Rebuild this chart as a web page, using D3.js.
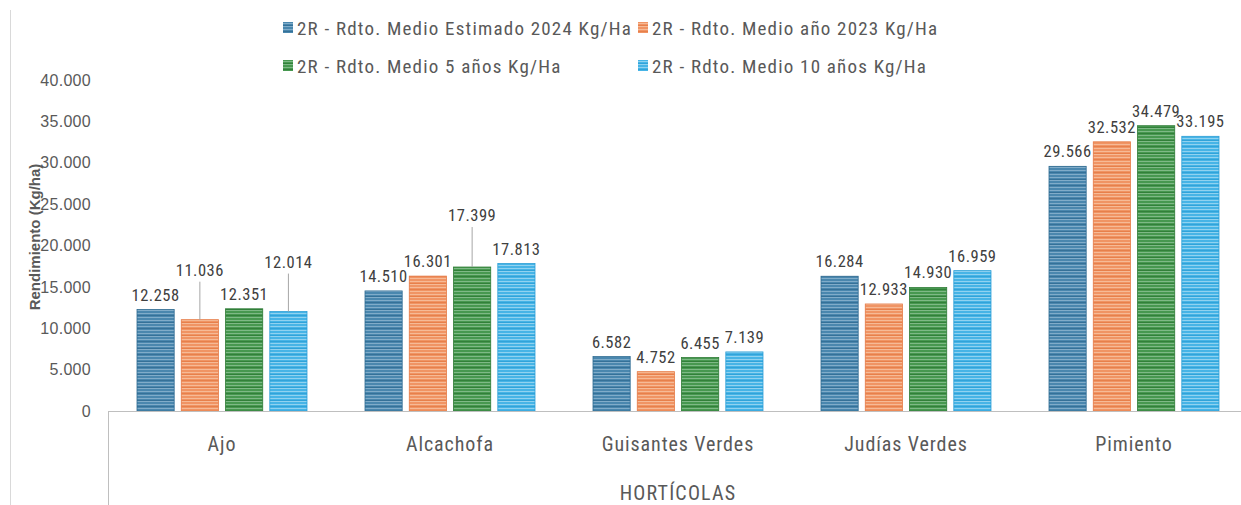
<!DOCTYPE html>
<html lang="es">
<head>
<meta charset="UTF-8">
<title>Rendimiento hortícolas</title>
<script src="https://d3js.org/d3.v7.min.js"></script>
<style>
  body { margin: 0; background: #fff; }
  svg { font-family: "Liberation Sans Narrow", "Roboto Condensed", "Liberation Sans", sans-serif; }
</style>
</head>
<body>
<div id="chart"></div>
<script>
    // -------- DATA --------
    var categories = ["Ajo", "Alcachofa", "Guisantes Verdes", "Judías Verdes", "Pimiento"];
    var seriesNames = [
        "2R - Rdto. Medio Estimado 2024 Kg/Ha",
        "2R - Rdto. Medio año 2023 Kg/Ha",
        "2R - Rdto. Medio 5 años Kg/Ha",
        "2R - Rdto. Medio 10 años Kg/Ha"
    ];
    var est2024 = [12258, 14510, 6582, 16284, 29566];
    var anio2023 = [11036, 16301, 4752, 12933, 32532];
    var medio5 = [12351, 17399, 6455, 14930, 34479];
    var medio10 = [12014, 17813, 7139, 16959, 33195];
    var yTicks = [0, 5000, 10000, 15000, 20000, 25000, 30000, 35000, 40000];
    var axisTitle = "Rendimiento (Kg/ha)";
    var groupTitle = "HORTÍCOLAS";

    var seriesValues = [est2024, anio2023, medio5, medio10];

    // colours: base, dark stripe, light stripe
    var colors = [
        ["#4a87ae", "#2f6b92", "#8db5cf"],
        ["#f09464", "#e57a45", "#f8c3a3"],
        ["#479850", "#2d7b35", "#8cc293"],
        ["#47b4e6", "#2c9fd6", "#a3d9f3"]
    ];

    // labels lifted with a leader line (series index - category index -> px)
    var lifted = { "1-0": 35, "3-0": 35, "2-1": 37 };

    var width = 1241, height = 505;
    var plotTop = 80, plotBottom = 411, plotLeft = 108, bandW = 228;

    var svg = d3.select("#chart")
        .append("svg")
        .attr("width", width)
        .attr("height", height);

    // stripe patterns
    var defs = svg.append("defs");
    colors.forEach(function (c, i) {
        var p = defs.append("pattern")
            .attr("id", "stripe" + i)
            .attr("patternUnits", "userSpaceOnUse")
            .attr("width", 8)
            .attr("height", 13);
        p.append("rect").attr("width", 8).attr("height", 13).attr("fill", c[0]);
        [[1, c[2]], [3, c[1]], [5, c[2]], [8, c[2]], [10, c[1]], [11, c[2]]].forEach(function (s) {
            p.append("rect").attr("y", s[0]).attr("width", 8).attr("height", 1)
                .attr("fill", s[1]).attr("opacity", 0.8);
        });
    });

    var fmt = d3.formatLocale({ decimal: ",", thousands: ".", grouping: [3], currency: ["", ""] }).format(",");

    var x0 = d3.scaleBand()
        .domain(categories)
        .range([plotLeft, plotLeft + bandW * categories.length]);
    var x1 = d3.scaleBand()
        .domain(d3.range(seriesNames.length))
        .range([29, 199])
        .paddingInner(0.16);
    var y = d3.scaleLinear()
        .domain([0, 40000])
        .range([plotBottom, plotTop]);

    // outer border line
    svg.append("line")
        .attr("x1", 10.5).attr("x2", 10.5)
        .attr("y1", 10).attr("y2", height)
        .attr("stroke", "#d9d9d9");

    // y axis labels
    var yAxis = svg.append("g")
        .attr("transform", "translate(" + 91 + ",0)")
        .call(d3.axisLeft(y).tickValues(yTicks).tickSize(0).tickPadding(0)
            .tickFormat(function (d) { return fmt(d); }));
    yAxis.select(".domain").remove();
    yAxis.selectAll("text")
        .attr("fill", "#595959")
        .style("font-size", "16px")
        .style("letter-spacing", "0.3px")
        .style("font-family", "inherit");

    svg.append("text")
        .attr("transform", "translate(40," + 237 + ") rotate(-90)")
        .attr("text-anchor", "middle")
        .attr("fill", "#595959")
        .style("font-family", "'Liberation Sans', sans-serif")
        .style("font-weight", "bold")
        .style("font-size", "15px")
        .text(axisTitle);

    // bars
    var groups = svg.append("g").selectAll("g")
        .data(categories)
        .enter()
        .append("g")
        .attr("transform", function (d) { return "translate(" + x0(d) + ",0)"; });

    groups.selectAll("rect")
        .data(function (d, ci) {
            return seriesValues.map(function (vals, si) { return { si: si, ci: ci, v: vals[ci] }; });
        })
        .enter()
        .append("rect")
        .attr("x", function (d) { return x1(d.si); })
        .attr("y", function (d) { return y(d.v); })
        .attr("width", x1.bandwidth())
        .attr("height", function (d) { return y(0) - y(d.v); })
        .attr("fill", function (d) { return "url(#stripe" + d.si + ")"; })
        .attr("stroke", function (d) { return colors[d.si][1]; })
        .attr("stroke-width", 0.8);

    // leader lines
    groups.selectAll("line.leader")
        .data(function (d, ci) {
            return seriesValues.map(function (vals, si) { return { si: si, ci: ci, v: vals[ci] }; })
                .filter(function (d) { return lifted[d.si + "-" + d.ci]; });
        })
        .enter()
        .append("line")
        .attr("class", "leader")
        .attr("x1", function (d) { return x1(d.si) + x1.bandwidth() / 2; })
        .attr("x2", function (d) { return x1(d.si) + x1.bandwidth() / 2; })
        .attr("y1", function (d) { return y(d.v) - 9 - lifted[d.si + "-" + d.ci] + 6; })
        .attr("y2", function (d) { return y(d.v); })
        .attr("stroke", "#a6a6a6")
        .attr("stroke-width", 1);

    // value labels
    groups.selectAll("text.val")
        .data(function (d, ci) {
            return seriesValues.map(function (vals, si) { return { si: si, ci: ci, v: vals[ci] }; });
        })
        .enter()
        .append("text")
        .attr("class", "val")
        .attr("x", function (d) { return x1(d.si) + x1.bandwidth() / 2; })
        .attr("y", function (d) { return y(d.v) - 9 - (lifted[d.si + "-" + d.ci] || 0); })
        .attr("text-anchor", "middle")
        .attr("fill", "#404040")
        .style("font-size", "16.5px")
        .style("letter-spacing", "0.5px")
        .text(function (d) { return fmt(d.v); });

    // x axis
    svg.append("line")
        .attr("x1", plotLeft).attr("x2", width)
        .attr("y1", plotBottom + 0.5).attr("y2", plotBottom + 0.5)
        .attr("stroke", "#bfbfbf");
    svg.append("line")
        .attr("x1", plotLeft + 0.5).attr("x2", plotLeft + 0.5)
        .attr("y1", plotBottom).attr("y2", height)
        .attr("stroke", "#bfbfbf");

    svg.append("g").selectAll("text")
        .data(categories)
        .enter()
        .append("text")
        .attr("x", function (d) { return x0(d) + bandW / 2; })
        .attr("y", 451)
        .attr("text-anchor", "middle")
        .attr("fill", "#595959")
        .style("font-size", "20px")
        .style("letter-spacing", "0.9px")
        .text(function (d) { return d; });

    svg.append("text")
        .attr("x", x0(categories[2]) + bandW / 2)
        .attr("y", 500)
        .attr("text-anchor", "middle")
        .attr("fill", "#595959")
        .style("font-size", "20px")
        .style("letter-spacing", "1.2px")
        .text(groupTitle);

    // legend
    var legendPos = [[283, 28], [638, 28], [283, 66], [638, 66]];
    var legend = svg.append("g").selectAll("g")
        .data(seriesNames)
        .enter()
        .append("g")
        .attr("transform", function (d, i) { return "translate(" + legendPos[i][0] + "," + legendPos[i][1] + ")"; });
    legend.append("rect")
        .attr("x", 0).attr("y", -6)
        .attr("width", 10).attr("height", 11)
        .attr("fill", function (d, i) { return "url(#stripe" + i + ")"; });
    legend.append("text")
        .attr("x", 14)
        .attr("y", 6.5)
        .attr("fill", "#595959")
        .style("font-size", "19px")
        .style("letter-spacing", "1.2px")
        .text(function (d) { return d; });
</script>
</body>
</html>
